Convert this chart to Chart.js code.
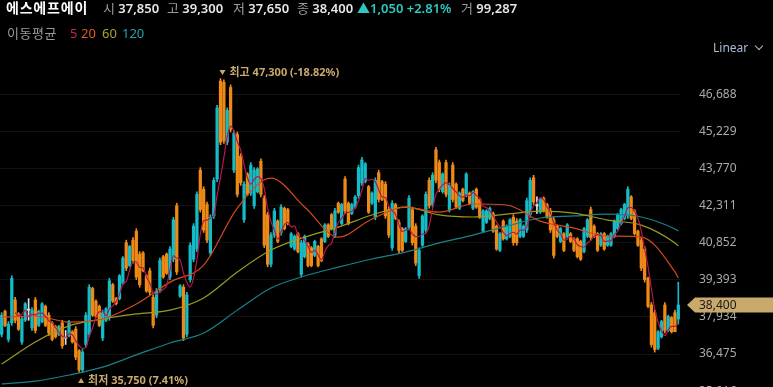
<!DOCTYPE html>
<html lang="ko">
<head>
<meta charset="utf-8">
<script src="https://cdn.jsdelivr.net/npm/chart.js@4.4.1/dist/chart.umd.min.js"></script>
<style>
  html, body { margin: 0; padding: 0; background: #000; }
  #wrap { position: relative; width: 773px; height: 387px; overflow: hidden;
    font-family: "Noto Sans", "Noto Sans CJK KR", sans-serif; }
  #wrap canvas { position: absolute; left: 0; top: 0; }
  .t { position: absolute; white-space: nowrap; line-height: 16px; height: 16px; }
  .r1 { top: 0; font-size: 13px; }
  .r2 { top: 25px; font-size: 13px; }
  .lab { color: #9a9a9a; }
  .val { color: #e6e6e6; font-weight: 600; }
  .name { color: #fff; font-weight: 700; font-size: 14px; letter-spacing: 0.8px; }
  .up { color: #2ec8c0; font-weight: 600; }
  #scale { position: absolute; left: 713px; top: 40px; font-size: 12px; color: #a9bcd8; line-height: 16px; }
  #scale i { position: absolute; left: 43px; top: 3px; width: 5px; height: 5px;
    border-right: 1px solid #a9bcd8; border-bottom: 1px solid #a9bcd8; transform: rotate(45deg); }
</style>
</head>
<body>
<div id="wrap">
  <canvas id="chart" width="773" height="387"></canvas>
  <span class="t r1 name" style="left:6px">에스에프에이</span>
  <span class="t r1" style="left:103px"><span class="lab">시</span> <span class="val">37,850</span></span>
  <span class="t r1" style="left:167px"><span class="lab">고</span> <span class="val">39,300</span></span>
  <span class="t r1" style="left:233px"><span class="lab">저</span> <span class="val">37,650</span></span>
  <span class="t r1" style="left:297px"><span class="lab">종</span> <span class="val">38,400</span></span>
  <span class="t r1 up" style="left:357px">▲1,050 +2.81%</span>
  <span class="t r1" style="left:461px"><span class="lab">거</span> <span class="val">99,287</span></span>
  <span class="t r2 lab" style="left:7px;letter-spacing:0.5px">이동평균</span>
  <span class="t r2" style="left:70px;color:#c8284f">5</span>
  <span class="t r2" style="left:81px;color:#dd5a22">20</span>
  <span class="t r2" style="left:102px;color:#a8a42a">60</span>
  <span class="t r2" style="left:122px;color:#24a3ad">120</span>
  <div id="scale">Linear<i></i></div>
</div>
<script>
// daily candles, oldest first
const opens = [
  37250, 38150, 37050, 37700, 38600, 38050, 36950, 37800, 38200, 37500,
  38600, 37600, 37750, 38350, 38000, 37700, 37550, 37250, 37700, 37100,
  37200, 37350, 37450, 36600, 35850, 36850, 37250, 39050, 38550, 38350,
  37100, 37800, 37900, 39200, 38650, 38650, 39250, 40850, 39950, 40950,
  41300, 40400, 40450, 39550, 39750, 38700, 38000, 39000, 40300, 40400,
  39500, 40200, 42300, 38750, 39100, 37250, 39400, 40200, 40600, 43700,
  42950, 42350, 40450, 41900, 43350, 47200, 47150, 44800, 46950, 43700,
  45100, 44250, 41750, 43550, 42800, 42300, 42850, 44050, 42600, 41950,
  40000, 41150, 41700, 41250, 42200, 42150, 40700, 40600, 41200, 39600,
  40300, 40800, 40650, 40350, 40700, 41000, 40900, 41550, 41950, 41150,
  42400, 41600, 43350, 42400, 42000, 42250, 42700, 43200, 43250, 43050,
  42400, 41850, 43600, 43250, 43150, 42150, 40650, 42350, 41650, 41400,
  40900, 41450, 42150, 41500, 39550, 40750, 41350, 43300, 42350, 44500,
  44000, 42850, 44000, 42150, 43900, 43150, 42200, 42950, 42700, 42800,
  42200, 42950, 42550, 41300, 41650, 41800, 42000, 41500, 40550, 41700,
  41000, 41100, 41850, 41700, 41100, 41100, 41350, 41950, 43400, 42300,
  42050, 42600, 42350, 42100, 41750, 41500, 40900, 41200, 41100, 41200,
  41000, 41000, 40900, 40500, 41100, 42150, 41500, 41200, 40750, 41200,
  40750, 40750, 41100, 41400, 41600, 41800, 41900, 42650, 42100, 41300,
  40950, 40600, 39450, 38400, 38100, 36700, 37150, 38400, 37400, 37900,
  38100, 37850
];
const highs = [
  38100, 38200, 37750, 39550, 38700, 38100, 37950, 38500, 38650, 38300,
  38700, 38200, 38500, 38400, 38100, 37750, 37600, 37600, 37800, 37400,
  37800, 37400, 37550, 36650, 36650, 38100, 39200, 39100, 38600, 38400,
  38200, 38300, 39450, 39250, 38700, 39600, 40300, 40950, 40750, 41050,
  41400, 40500, 40500, 39600, 39850, 38800, 39050, 40250, 40350, 40450,
  40700, 41850, 42400, 39200, 39200, 38900, 40850, 41600, 42850, 43800,
  43050, 42450, 41950, 43400, 46250, 47300, 47250, 46150, 47050, 45250,
  45200, 44350, 43250, 43600, 44000, 43800, 43800, 44150, 42700, 42050,
  41250, 42200, 41750, 42350, 42250, 42200, 41250, 41150, 41250, 40950,
  41150, 40850, 40700, 40950, 40750, 41050, 41600, 41600, 42000, 42200,
  42450, 42400, 43450, 42450, 42400, 42700, 43900, 44200, 44000, 43100,
  42850, 43400, 43700, 43300, 43250, 42250, 42500, 42400, 41750, 41450,
  41450, 42700, 42250, 41600, 40650, 41950, 42850, 43400, 43600, 44600,
  44100, 43600, 44100, 43200, 44000, 43200, 42850, 43000, 43600, 42850,
  42900, 43000, 42600, 42150, 42150, 42250, 42050, 41550, 41250, 41750,
  41550, 41800, 41950, 41800, 41800, 41550, 42600, 43400, 43500, 42650,
  42600, 42650, 42400, 42200, 41850, 41550, 41450, 41250, 41600, 41250,
  41050, 41050, 40950, 41450, 41800, 42250, 41550, 41250, 41250, 41250,
  41150, 41250, 41750, 42000, 42200, 42400, 43050, 42700, 42150, 41350,
  41050, 40700, 39500, 38500, 38200, 37400, 37800, 38500, 38000, 37950,
  38200, 39300
];
const lows = [
  37150, 37550, 36950, 37600, 37700, 37400, 36850, 37750, 37800, 37400,
  37300, 37550, 37700, 37550, 37200, 37000, 37100, 37200, 36700, 36850,
  37150, 36900, 36250, 35750, 35750, 36750, 37150, 37950, 37900, 37550,
  37000, 37750, 37800, 38500, 38400, 38600, 39200, 39750, 39900, 40050,
  39400, 39100, 39700, 38900, 38800, 37500, 37900, 38900, 39450, 39600,
  39400, 40100, 39600, 38700, 37000, 37150, 39300, 40100, 40500, 42050,
  41250, 40850, 40350, 41800, 43250, 44700, 44750, 44700, 45200, 43600,
  42650, 43100, 41650, 42700, 42700, 42200, 42800, 42650, 40650, 39900,
  39900, 41050, 40850, 41150, 41350, 41550, 40650, 40550, 40450, 39500,
  40250, 39900, 39900, 40300, 39900, 40100, 40850, 41050, 41350, 41050,
  42000, 41550, 42000, 41550, 41950, 42200, 42600, 43100, 43200, 42000,
  42350, 41750, 42450, 42500, 41800, 41050, 40550, 41750, 40450, 40500,
  40850, 41350, 40750, 39950, 39450, 40700, 41250, 42200, 42250, 43200,
  42850, 42800, 42650, 42050, 42450, 42200, 42150, 42450, 42650, 42350,
  42150, 42200, 41800, 41250, 41600, 41750, 41250, 40550, 40500, 40950,
  40950, 41050, 40750, 40750, 41050, 41050, 41250, 41850, 42350, 42000,
  42000, 42050, 41800, 41250, 40250, 41050, 40850, 40500, 41050, 40850,
  40500, 40250, 40150, 40450, 41050, 40950, 41050, 40500, 40700, 40550,
  40700, 40700, 41050, 41350, 41550, 41750, 41800, 41750, 41150, 40700,
  39750, 39300, 38300, 36750, 36550, 36650, 37100, 37300, 37350, 37300,
  37350, 37650
];
const closes = [
  38000, 37600, 37650, 39450, 37800, 37450, 37850, 38450, 38200, 38200,
  37400, 38150, 38450, 37600, 37300, 37050, 37150, 37550, 36800, 37100,
  37750, 36950, 36350, 35850, 36550, 38000, 39100, 38000, 37950, 37600,
  38100, 38250, 39350, 38550, 38450, 39550, 40250, 39850, 40700, 40150,
  39500, 39200, 39750, 38950, 38900, 37600, 38950, 40150, 39500, 39650,
  40600, 41750, 39700, 39150, 37100, 38800, 40750, 41500, 42750, 42150,
  41350, 40950, 41850, 43300, 46150, 44800, 44850, 46050, 45300, 45150,
  42750, 43200, 43150, 42750, 43900, 43700, 43750, 42750, 40750, 40000,
  41150, 42100, 40900, 42250, 41400, 41600, 41200, 41100, 40500, 40850,
  41100, 39950, 39950, 40900, 39950, 40150, 41550, 41100, 41400, 42100,
  42050, 42350, 42100, 41600, 42350, 42650, 43800, 44100, 43950, 42050,
  42800, 43300, 42550, 42550, 41900, 41150, 42400, 41800, 40550, 40550,
  41400, 42600, 40850, 40050, 40550, 41900, 42750, 42300, 43500, 43300,
  42950, 43550, 42750, 43100, 42550, 42250, 42800, 42500, 43550, 42400,
  42850, 42250, 41850, 42100, 42100, 42200, 41300, 40600, 41200, 41000,
  41500, 41750, 40850, 40850, 41750, 41500, 42500, 43300, 42450, 42300,
  42550, 42100, 41850, 41350, 40350, 41100, 41400, 40550, 41550, 40900,
  40550, 40300, 40200, 41400, 41750, 41050, 41100, 40550, 41200, 40600,
  41100, 41200, 41700, 41950, 42150, 42350, 42950, 41800, 41200, 40750,
  39850, 39400, 38350, 36850, 36650, 37350, 37750, 37400, 37950, 37350,
  37350, 38400
];

// moving averages at every 10th candle (and the last one)
const maIdx = [0, 10, 20, 30, 40, 50, 60, 70, 80, 90, 100, 110, 120, 130, 140, 150, 160, 170, 180, 190, 200, 201];
const ma20Pts = [37930, 37970, 37730, 37850, 38440, 39300, 39970, 42210, 43390, 42250, 41070,
  41780, 42250, 42050, 42370, 42330, 41700, 41420, 41110, 41070, 39700, 39460];
const ma60Pts = [36080, 36950, 37580, 37850, 38050, 38200, 38680, 39700, 40560, 41070, 41460,
  41940, 42250, 41940, 41860, 41970, 42090, 42010, 41740, 41540, 40840, 40720];
const ma120Pts = [35300, 35410, 35650, 35960, 36440, 36910, 37300, 38200, 39070, 39540, 39890,
  40210, 40480, 40840, 41150, 41500, 41820, 41900, 41970, 41860, 41390, 41310];

const yTicks = [35016, 36475, 37934, 39393, 40852, 42311, 43770, 45229, 46688];

const UP = '#14bcc8';
const DOWN = '#ef8a17';
const FLAT = '#e4e4e4';
const GOLD = '#c9a96c';
const FONT = '"Noto Sans", "Noto Sans CJK KR", sans-serif';

const labels = closes.map((_, i) => i);

function sparse(points) {
  const out = labels.map(() => null);
  maIdx.forEach((k, j) => { out[k] = points[j]; });
  return out;
}

const ma5 = closes.map((_, i) => {
  if (i < 4) return null;
  let s = 0;
  for (let k = i - 4; k <= i; k++) s += closes[k];
  return s / 5;
});

const candleColor = closes.map((c, i) => c > opens[i] ? UP : (c < opens[i] ? DOWN : FLAT));

function fmt(v) {
  return Math.round(v).toLocaleString('en-US');
}

function maLine(label, data, color, sparseLine) {
  return {
    type: 'line', label: label, data: data,
    borderColor: color, borderWidth: 1.2, pointRadius: 0,
    spanGaps: sparseLine, cubicInterpolationMode: 'monotone'
  };
}

// high / low labels and the current price tag
const marks = {
  id: 'marks',
  afterDraw(chart) {
    const { ctx, chartArea } = chart;
    const x = chart.scales.x, y = chart.scales.y;
    const last = closes[closes.length - 1];
    let hi = 0, lo = 0;
    highs.forEach((v, i) => { if (v > highs[hi]) hi = i; });
    lows.forEach((v, i) => { if (v < lows[lo]) lo = i; });

    ctx.save();
    ctx.font = 'bold 11px ' + FONT;
    ctx.textBaseline = 'middle';
    ctx.textAlign = 'left';
    ctx.fillStyle = GOLD;

    const hx = x.getPixelForValue(hi) - 1;
    const hy = y.getPixelForValue(highs[hi]) - 6;
    ctx.beginPath();
    ctx.moveTo(hx, hy - 2.5); ctx.lineTo(hx + 6, hy - 2.5); ctx.lineTo(hx + 3, hy + 2.5);
    ctx.closePath(); ctx.fill();
    ctx.fillText('최고 ' + fmt(highs[hi]) + ' (' + ((last / highs[hi] - 1) * 100).toFixed(2) + '%)', hx + 10, hy);

    const lx = x.getPixelForValue(lo) - 1;
    const ly = y.getPixelForValue(lows[lo]) + 8;
    ctx.beginPath();
    ctx.moveTo(lx, ly + 2.5); ctx.lineTo(lx + 6, ly + 2.5); ctx.lineTo(lx + 3, ly - 2.5);
    ctx.closePath(); ctx.fill();
    ctx.fillText('최저 ' + fmt(lows[lo]) + ' (' + ((last / lows[lo] - 1) * 100).toFixed(2) + '%)', lx + 10, ly);

    const py = y.getPixelForValue(last);
    const tx = chartArea.right + 7;
    ctx.beginPath();
    ctx.moveTo(tx, py); ctx.lineTo(tx + 8, py - 7.5); ctx.lineTo(chart.width, py - 7.5);
    ctx.lineTo(chart.width, py + 7.5); ctx.lineTo(tx + 8, py + 7.5);
    ctx.closePath(); ctx.fill();
    ctx.fillStyle = '#1a1a1a';
    ctx.font = '12px ' + FONT;
    ctx.fillText(fmt(last), tx + 12, py + 0.5);
    ctx.restore();
  }
};

new Chart(document.getElementById('chart').getContext('2d'), {
  type: 'bar',
  data: {
    labels: labels,
    datasets: [
      maLine('5', ma5, '#b8174c', false),
      maLine('20', sparse(ma20Pts), '#d24a1c', true),
      maLine('60', sparse(ma60Pts), '#9c9a22', true),
      maLine('120', sparse(ma120Pts), '#18828c', true),
      {
        label: 'wick',
        data: lows.map((l, i) => [l, highs[i]]),
        backgroundColor: candleColor,
        barThickness: 1,
        grouped: false
      },
      {
        label: 'body',
        data: opens.map((o, i) => [Math.min(o, closes[i]), Math.max(o, closes[i])]),
        backgroundColor: candleColor,
        barThickness: 2.6,
        minBarLength: 1,
        grouped: false
      }
    ]
  },
  options: {
    responsive: false,
    animation: false,
    layout: { padding: { top: 57, left: 0, right: 0, bottom: 0 } },
    plugins: { legend: { display: false }, tooltip: { enabled: false } },
    scales: {
      x: { display: false, offset: true },
      y: {
        position: 'right',
        min: 35179,
        max: 48147,
        afterBuildTicks: (s) => { s.ticks = yTicks.map(v => ({ value: v })); },
        afterFit: (s) => { s.width = 93; s.paddingTop = 0; s.paddingBottom = 0; },
        grid: { color: 'rgba(255,255,255,0.07)', drawTicks: false },
        border: { display: false },
        ticks: {
          color: '#a9a9a9', padding: 19, autoSkip: false,
          font: { size: 12, family: FONT },
          callback: (v) => fmt(v)
        }
      }
    }
  },
  plugins: [marks]
});
</script>
</body>
</html>
